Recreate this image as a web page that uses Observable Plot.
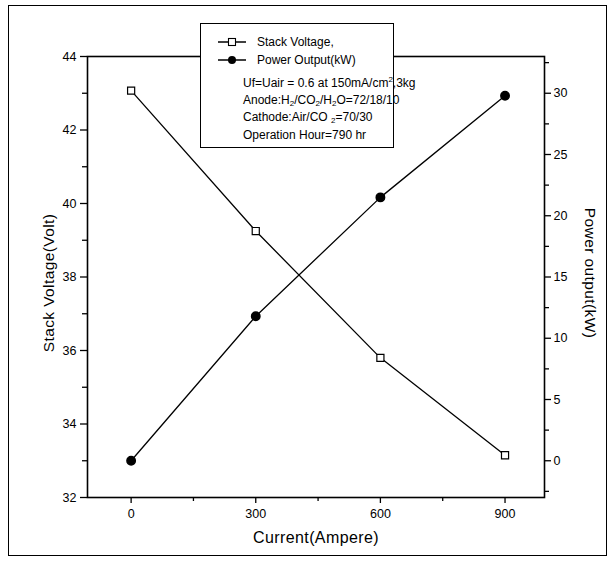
<!DOCTYPE html>
<html>
<head>
<meta charset="utf-8">
<script src="https://cdn.jsdelivr.net/npm/d3@7"></script>
<script src="https://cdn.jsdelivr.net/npm/@observablehq/plot@0.6"></script>
<style>
  html, body { margin: 0; padding: 0; background: #fff; }
  #wrap { position: relative; width: 614px; height: 567px; font-family: "Liberation Sans", Arial, sans-serif; }
  #border { position: absolute; left: 8px; top: 5px; width: 597px; height: 549px; border: 1px solid #000; pointer-events: none; }
  #legend { position: absolute; left: 200px; top: 23px; width: 192px; height: 123px; border: 1.5px solid #000; background: #fff; font-size: 12px; color: #000; }
  #legend .row { position: absolute; white-space: nowrap; line-height: 14px; }
  #legend sub { font-size: 8px; vertical-align: -2px; line-height: 0; }
  #legend sup { font-size: 8px; vertical-align: 5px; line-height: 0; }
  #legend svg { position: absolute; }
  .title-text { letter-spacing: 0.4px; }
</style>
</head>
<body>
<div id="wrap">
  <div id="chart"></div>
  <div id="border"></div>
  <div id="legend"></div>
</div>
<script>
// ---- data ----
const current = [0, 300, 600, 900];
const voltage = [43.07, 39.25, 35.8, 33.15];
const power = [0, 11.8, 21.5, 29.8];

const xTicks = [0, 300, 600, 900];
const xMinor = [150, 450, 750];
const vTicks = [32, 34, 36, 38, 40, 42, 44];
const vMinor = [33, 35, 37, 39, 41, 43];
const pTicks = [0, 5, 10, 15, 20, 25, 30];
const pMinor = [-2.5, 2.5, 7.5, 12.5, 17.5, 22.5, 27.5, 32.5];

const seriesNames = ["Stack Voltage,", "Power Output(kW)"];
const legendNotes = [
  "Uf=Uair = 0.6 at 150mA/cm<sup>2</sup>,3kg",
  "Anode:H<sub>2</sub>/CO<sub>2</sub>/H<sub>2</sub>O=72/18/10",
  "Cathode:Air/CO <sub>2</sub>=70/30",
  "Operation Hour=790 hr"
];
const xTitle = "Current(Ampere)";
const yTitle = "Stack Voltage(Volt)";
const y2Title = "Power output(kW)";

// right-axis (power) domain mapped onto left (voltage) domain
const vDomain = [32, 44];
const pDomain = [-3, 33];
const p2v = p => vDomain[0] + (p - pDomain[0]) * (vDomain[1] - vDomain[0]) / (pDomain[1] - pDomain[0]);
const v2p = v => pDomain[0] + (v - vDomain[0]) * (pDomain[1] - pDomain[0]) / (vDomain[1] - vDomain[0]);

const vData = current.map((c, i) => ({x: c, y: voltage[i]}));
const pData = current.map((c, i) => ({x: c, y: p2v(power[i])}));

const font = "Liberation Sans, Arial, sans-serif";

const chart = Plot.plot({
  width: 614,
  height: 567,
  marginLeft: 87,
  marginRight: 70,
  marginTop: 56,
  marginBottom: 70,
  style: {fontFamily: font, fontSize: "12px", color: "#000", background: "transparent"},
  x: {domain: [-105, 995]},
  y: {domain: vDomain},
  marks: [
    // x axis
    Plot.axisX({ticks: xTicks, tickSize: 6, tickPadding: 6, tickFormat: d => String(d), label: null, fontSize: 12.5, strokeWidth: 1.3}),
    Plot.axisX({ticks: xMinor, tickSize: 4, tickFormat: () => "", label: null, strokeWidth: 1.3}),
    // left axis
    Plot.axisY({ticks: vTicks, tickSize: 7, tickPadding: 4, tickFormat: d => String(d), label: null, fontSize: 12.5, strokeWidth: 1.3}),
    Plot.axisY({ticks: vMinor, tickSize: 5, tickFormat: () => "", label: null, strokeWidth: 1.3}),
    // right axis (power)
    Plot.axisY({anchor: "right", ticks: pTicks.map(p2v), tickSize: 6, tickPadding: 3,
      tickFormat: v => String(Math.round(v2p(v))), label: null, fontSize: 12.5, strokeWidth: 1.3}),
    Plot.axisY({anchor: "right", ticks: pMinor.map(p2v), tickSize: 4, tickFormat: () => "", label: null, strokeWidth: 1.3}),
    Plot.frame({stroke: "#000", strokeWidth: 1.6}),
    // axis titles
    Plot.text([xTitle], {frameAnchor: "bottom", textAnchor: "middle", lineAnchor: "middle", dy: 40, fontSize: 16, fill: "#000", className: "title-text"}),
    Plot.text([yTitle], {frameAnchor: "left", textAnchor: "middle", lineAnchor: "middle", dx: -38, dy: 6, rotate: -90, fontSize: 15.5, fill: "#000", className: "title-text"}),
    Plot.text([y2Title], {frameAnchor: "right", textAnchor: "middle", lineAnchor: "middle", dx: 45, dy: -4, rotate: 90, fontSize: 15.5, fill: "#000", className: "title-text"}),
    // series
    Plot.line(vData, {x: "x", y: "y", stroke: "#000", strokeWidth: 1.3}),
    Plot.line(pData, {x: "x", y: "y", stroke: "#000", strokeWidth: 1.3}),
    Plot.dot(vData, {x: "x", y: "y", symbol: "square", r: 4, fill: "#fff", stroke: "#000", strokeWidth: 1.2}),
    Plot.dot(pData, {x: "x", y: "y", symbol: "circle", r: 4.2, fill: "#000", stroke: "#000"})
  ]
});
document.getElementById("chart").appendChild(chart);

// legend (HTML overlay)
const legend = document.getElementById("legend");
const symRow = (top, kind, name) => {
  const s = document.createElementNS("http://www.w3.org/2000/svg", "svg");
  s.setAttribute("width", 32); s.setAttribute("height", 12);
  s.style.left = "16px"; s.style.top = (top + 1) + "px";
  const ln = document.createElementNS(s.namespaceURI, "line");
  ln.setAttribute("x1", 1); ln.setAttribute("x2", 29); ln.setAttribute("y1", 6); ln.setAttribute("y2", 6);
  ln.setAttribute("stroke", "#000"); ln.setAttribute("stroke-width", 1.5);
  s.appendChild(ln);
  if (kind === "square") {
    const r = document.createElementNS(s.namespaceURI, "rect");
    r.setAttribute("x", 11.5); r.setAttribute("y", 2.5); r.setAttribute("width", 7); r.setAttribute("height", 7);
    r.setAttribute("fill", "#fff"); r.setAttribute("stroke", "#000"); r.setAttribute("stroke-width", 1.1);
    s.appendChild(r);
  } else {
    const c = document.createElementNS(s.namespaceURI, "circle");
    c.setAttribute("cx", 15); c.setAttribute("cy", 6); c.setAttribute("r", 4); c.setAttribute("fill", "#000");
    s.appendChild(c);
  }
  legend.appendChild(s);
  const t = document.createElement("div");
  t.className = "row"; t.style.left = "56px"; t.style.top = top + "px";
  t.textContent = name;
  legend.appendChild(t);
};
symRow(11, "square", seriesNames[0]);
symRow(29, "circle", seriesNames[1]);
const noteTops = [52, 69, 86, 104];
legendNotes.forEach((n, i) => {
  const t = document.createElement("div");
  t.className = "row"; t.style.left = "42px"; t.style.top = noteTops[i] + "px";
  t.innerHTML = n;
  legend.appendChild(t);
});
</script>
</body>
</html>
